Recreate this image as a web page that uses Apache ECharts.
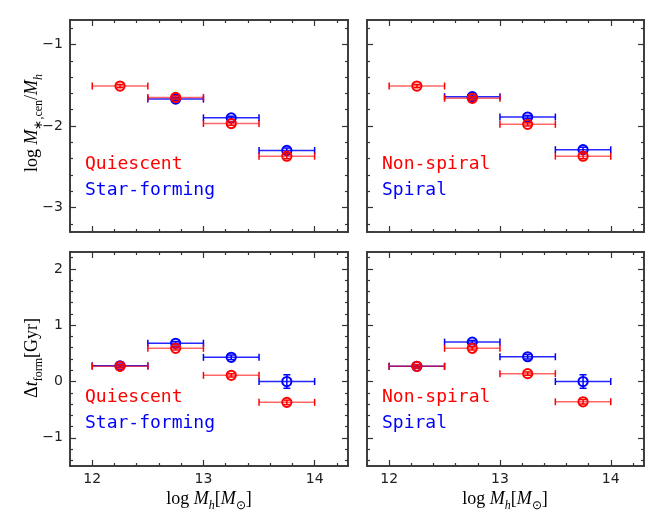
<!DOCTYPE html>
<html><head><meta charset="utf-8">
<script src="https://cdn.jsdelivr.net/npm/echarts@6/dist/echarts.min.js"></script>
<style>html,body{margin:0;padding:0;background:#fff}#c{width:664px;height:532px}</style>
</head><body><div id="c"></div>
<script>
// ---- data ----
const xCenters = [12.25, 12.75, 13.25, 13.75];
const xHalfBin = [0.25, 0.25, 0.25, 0.25];

// top-left: log M*,cen / Mh  (Quiescent vs Star-forming)
const tlRed = [-1.51, -1.65, -1.97, -2.37];
const tlRedErr = [0.02, 0.02, 0.02, 0.03];
const tlBlue = [null, -1.67, -1.90, -2.30];
const tlBlueErr = [0.02, 0.02, 0.02, 0.03];
// top-right (Non-spiral vs Spiral)
const trRed = [-1.51, -1.66, -1.98, -2.37];
const trRedErr = [0.02, 0.02, 0.02, 0.03];
const trBlue = [null, -1.64, -1.89, -2.29];
const trBlueErr = [0.02, 0.02, 0.02, 0.03];
// bottom-left: Delta t_form (Quiescent vs Star-forming)
const blRed = [0.27, 0.59, 0.11, -0.37];
const blRedErr = [0.03, 0.03, 0.03, 0.04];
const blBlue = [0.28, 0.68, 0.43, 0.00];
const blBlueErr = [0.03, 0.03, 0.04, 0.12];
// bottom-right (Non-spiral vs Spiral)
const brRed = [0.27, 0.59, 0.14, -0.36];
const brRedErr = [0.03, 0.03, 0.03, 0.04];
const brBlue = [0.27, 0.70, 0.44, 0.00];
const brBlueErr = [0.03, 0.03, 0.04, 0.12];

// ---- ticks ----
const xMajorTicks = [12, 13, 14];
const xMinorTicks = [12.2, 12.4, 12.6, 12.8, 13.2, 13.4, 13.6, 13.8, 14.2];
const yTopMajor = [-3, -2, -1];
const yTopMinor = [-3.2, -2.8, -2.6, -2.4, -2.2, -1.8, -1.6, -1.4, -1.2, -0.8];
const yBotMajor = [-1, 0, 1, 2];
const yBotMinor = [-1.4, -1.2, -0.8, -0.6, -0.4, -0.2, 0.2, 0.4, 0.6, 0.8, 1.2, 1.4, 1.6, 1.8, 2.2];

const labelsLeft = ['Quiescent', 'Star-forming'];
const labelsRight = ['Non-spiral', 'Spiral'];

const RED = '#ff0000', BLUE = '#0000ff', AX = '#333333';

const panels = [
  {rect: {left: 70, top: 20, width: 278, height: 212}, ymin: -3.3, ymax: -0.7, yMaj: yTopMajor, yMin: yTopMinor, xl: false, yl: true,
   red: tlRed, redErr: tlRedErr, blue: tlBlue, blueErr: tlBlueErr, labels: labelsLeft},
  {rect: {left: 367, top: 20, width: 277, height: 212}, ymin: -3.3, ymax: -0.7, yMaj: yTopMajor, yMin: yTopMinor, xl: false, yl: false,
   red: trRed, redErr: trRedErr, blue: trBlue, blueErr: trBlueErr, labels: labelsRight},
  {rect: {left: 70, top: 252, width: 278, height: 214}, ymin: -1.5, ymax: 2.3, yMaj: yBotMajor, yMin: yBotMinor, xl: true, yl: true,
   red: blRed, redErr: blRedErr, blue: blBlue, blueErr: blBlueErr, labels: labelsLeft},
  {rect: {left: 367, top: 252, width: 277, height: 214}, ymin: -1.5, ymax: 2.3, yMaj: yBotMajor, yMin: yBotMinor, xl: true, yl: false,
   red: brRed, redErr: brRedErr, blue: brBlue, blueErr: brBlueErr, labels: labelsRight}
];

const fmt = v => String(v).replace('-', '\u2212');
const labelStyle = {color: '#222', fontFamily: 'DejaVu Sans', fontSize: 14, formatter: fmt};

function axisSet(gi, dim, min, max, major, minor, showLabel) {
  const positions = dim === 'x' ? ['bottom', 'top'] : ['left', 'right'];
  const out = [];
  positions.forEach((pos, pi) => {
    [[major, 6], [minor, 3]].forEach(([vals, len], ti) => {
      out.push({
        type: 'value', gridIndex: gi, position: pos, min: min, max: max,
        splitLine: {show: false},
        axisLine: {show: true, onZero: false, lineStyle: {color: AX, width: 1.5}},
        axisTick: {show: true, inside: true, length: len, customValues: vals, lineStyle: {color: AX, width: 1.2}},
        axisLabel: Object.assign({show: showLabel && pi === 0 && ti === 0, customValues: major,
          margin: dim === 'x' ? 6 : 7}, labelStyle)
      });
    });
  });
  return out;
}

function makeRender(color, lineOpacity) {
  return function (params, api) {
    const x = api.value(0), y = api.value(1), xe = api.value(2), ye = api.value(3);
    const c = api.coord([x, y]);
    const l = api.coord([x - xe, y]), r = api.coord([x + xe, y]);
    const t = api.coord([x, y + ye]), b = api.coord([x, y - ye]);
    const cap = 3.5, lw = 1.5;
    const ln = (x1, y1, x2, y2, op) => ({type: 'line', shape: {x1, y1, x2, y2},
      style: {stroke: color, lineWidth: lw, opacity: op}});
    return {type: 'group', children: [
      ln(l[0], l[1], r[0], r[1], lineOpacity),
      ln(l[0], l[1] - cap, l[0], l[1] + cap, 1),
      ln(r[0], r[1] - cap, r[0], r[1] + cap, 1),
      ln(t[0], t[1], b[0], b[1], 1),
      ln(t[0] - cap, t[1], t[0] + cap, t[1], 1),
      ln(b[0] - cap, b[1], b[0] + cap, b[1], 1),
      {type: 'circle', shape: {cx: c[0], cy: c[1], r: 4.6}, style: {stroke: color, lineWidth: 2, fill: 'rgba(0,0,0,0)'}}
    ]};
  };
}

function buildData(ys, errs) {
  const d = [];
  xCenters.forEach((x, i) => { if (ys[i] !== null) d.push([x, ys[i], xHalfBin[i], errs[i]]); });
  return d;
}

const grids = [], xAxes = [], yAxes = [], series = [], graphics = [];
panels.forEach((p, gi) => {
  grids.push(Object.assign({outerBoundsMode: 'none', containLabel: false}, p.rect));
  xAxes.push(...axisSet(gi, 'x', 11.8, 14.3, xMajorTicks, xMinorTicks, p.xl));
  yAxes.push(...axisSet(gi, 'y', p.ymin, p.ymax, p.yMaj, p.yMin, p.yl));
  series.push({type: 'custom', xAxisIndex: gi * 4, yAxisIndex: gi * 4, clip: false, z: 2,
    renderItem: makeRender(BLUE, 0.85), data: buildData(p.blue, p.blueErr)});
  series.push({type: 'custom', xAxisIndex: gi * 4, yAxisIndex: gi * 4, clip: false, z: 3,
    renderItem: makeRender(RED, 0.6), data: buildData(p.red, p.redErr)});
  const lx = p.rect.left + 15, ly = p.rect.top + p.rect.height * 0.67;
  graphics.push({type: 'text', left: lx, top: ly - 7, style: {text: p.labels[0], fill: RED, font: '18px "DejaVu Sans Mono"'}});
  graphics.push({type: 'text', left: lx, top: ly + 19, style: {text: p.labels[1], fill: BLUE, font: '18px "DejaVu Sans Mono"'}});
});

const SERIF = '"Liberation Serif"';
const rich = {
  n: {fontFamily: SERIF, fontSize: 18, lineHeight: 26, verticalAlign: 'middle', color: '#222'},
  i: {fontFamily: SERIF, fontSize: 18, fontStyle: 'italic', lineHeight: 26, verticalAlign: 'middle', color: '#222'},
  s: {fontFamily: SERIF, fontSize: 12, lineHeight: 14, verticalAlign: 'bottom', color: '#222'},
  si: {fontFamily: SERIF, fontSize: 12, fontStyle: 'italic', lineHeight: 14, verticalAlign: 'bottom', color: '#222'}
};
const xTitle = '{n|log }{i|M}{si|h}{n|[}{i|M}{s|\u2299}{n|]}';
const yTopTitle = '{n|log }{i|M}{s|\u2217,cen}{n|/}{i|M}{si|h}';
const yBotTitle = '{n|\u0394}{i|t}{s|form}{n|[Gyr]}';

[209, 505].forEach(cx => graphics.push({type: 'text', x: cx, y: 499,
  style: {text: xTitle, rich: rich, align: 'center', verticalAlign: 'middle'}}));
graphics.push({type: 'text', x: 32, y: 123, rotation: Math.PI / 2,
  style: {text: yTopTitle, rich: rich, align: 'center', verticalAlign: 'middle'}});
graphics.push({type: 'text', x: 32, y: 358, rotation: Math.PI / 2,
  style: {text: yBotTitle, rich: rich, align: 'center', verticalAlign: 'middle'}});

const chart = echarts.init(document.getElementById('c'), null, {renderer: 'canvas'});
chart.setOption({
  animation: false,
  backgroundColor: '#fff',
  grid: grids, xAxis: xAxes, yAxis: yAxes, series: series, graphic: graphics
});
</script></body></html>
